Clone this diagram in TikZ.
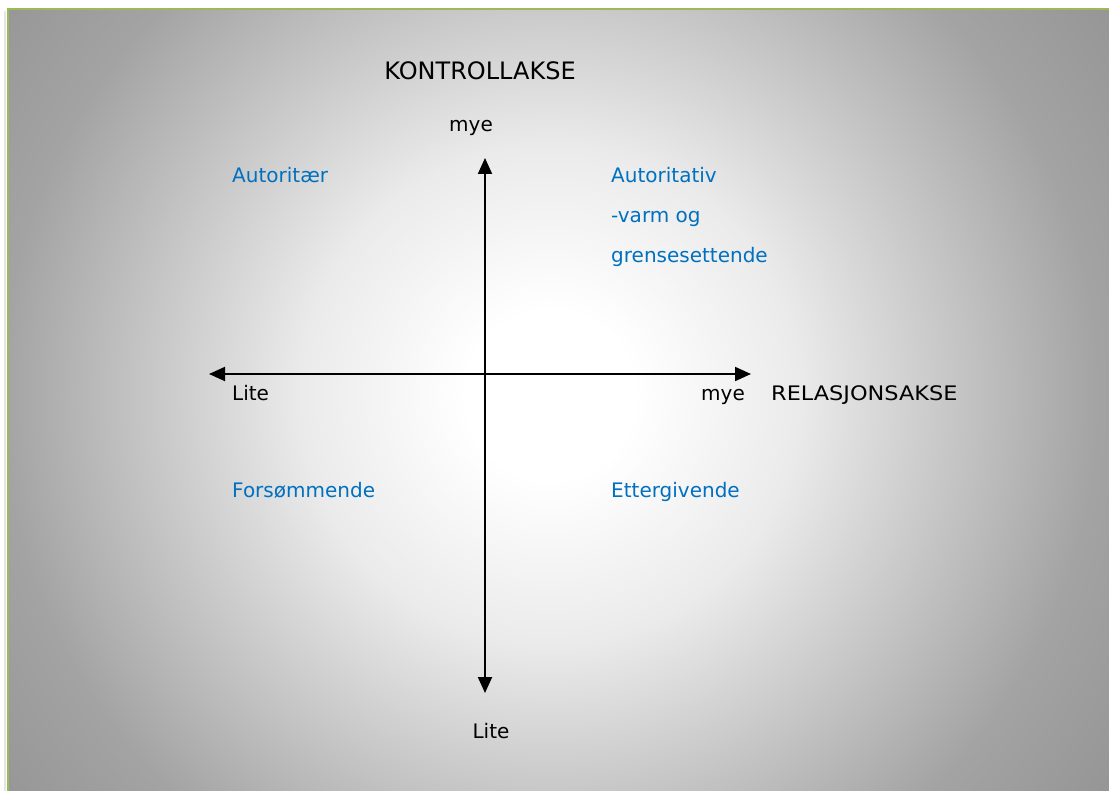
\documentclass[tikz,border=0pt]{standalone}
\usepackage{fontspec}
\setmainfont{DejaVu Sans}
\usetikzlibrary{arrows.meta}
\pgfdeclareradialshading{bgshade}{\pgfpoint{0bp}{0bp}}{color(0bp)=(white); color(3bp)=(white); color(8.9bp)=(black!8); color(19.6bp)=(black!36); color(25bp)=(black!42); color(50bp)=(black!42)}
\definecolor{framegreen}{HTML}{9BBB59}
\definecolor{quadblue}{HTML}{0070C0}
\begin{document}
\begin{tikzpicture}[x=1pt,y=-1pt,
  axisline/.style={line width=2pt,{Triangle[length=16pt,width=14pt]}-{Triangle[length=16pt,width=14pt]}},
  lbl/.style={font=\fontsize{20}{24}\selectfont, inner sep=0pt, anchor=base west, text=black},
  quad/.style={lbl, text=quadblue}]
\useasboundingbox (0,0) rectangle (1109,791);
\fill[white] (0,0) rectangle (1109,791);
\begin{scope}
\clip (8,9) rectangle (1109,791);
\shade[shading=bgshade] (550,395) circle (700);
\end{scope}
\draw[black!10, line width=2pt] (5,795) -- (5,11);
\draw[framegreen, line width=2.5pt] (8,795) -- (8,9) -- (1115,9);
% axes
\coordinate (L) at (209,374);
\coordinate (R) at (751,374);
\coordinate (T) at (485,158);
\coordinate (B) at (485,693);
\draw[axisline] (L) -- (R);
\draw[axisline] (T) -- (B);
% labels
\node[lbl, anchor=base, font=\fontsize{24}{28}\selectfont] (kontroll) at (480,80) {KONTROLLAKSE};
\node[lbl, anchor=base] (myetop) at (471,132) {mye};
\node[quad] (autoritaer) at (232,183) {Autoritær};
\node[quad] (autoritativ) at (611,183) {Autoritativ};
\node[quad] (varm) at (611,223) {-varm og};
\node[quad] (grense) at (611,263) {grensesettende};
\node[lbl] (liteleft) at (232,401) {Lite};
\node[lbl, anchor=base east] (myeright) at (745,401) {mye};
\node[lbl] (relasjon) at (771,401) {\addfontfeature{FakeStretch=1.12}RELASJONSAKSE};
\node[quad] (forsom) at (232,497) {Forsømmende};
\node[quad] (etter) at (611,497) {Ettergivende};
\node[lbl, anchor=base] (litebottom) at (491,738) {Lite};
\end{tikzpicture}
\end{document}
